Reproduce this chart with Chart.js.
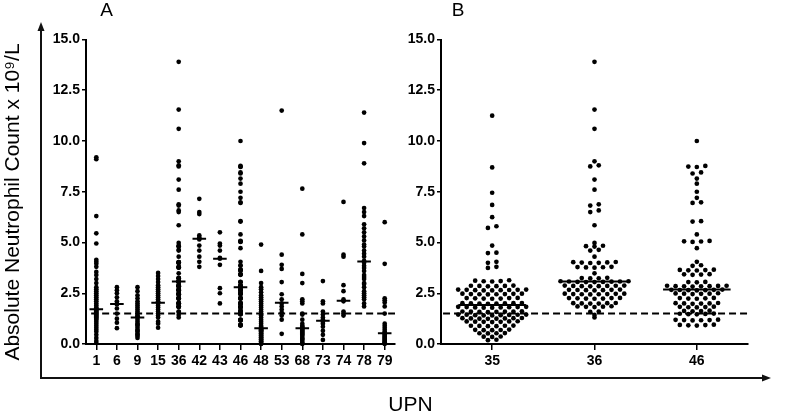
<!DOCTYPE html>
<html>
<head>
<meta charset="utf-8">
<script src="https://cdn.jsdelivr.net/npm/chart.js@4.4.1/dist/chart.umd.min.js"></script>
<style>
    body { margin: 0; background: #fff; }
    #wrap { position: relative; width: 800px; height: 412px; }
    canvas { position: absolute; top: 0; }
</style>
</head>
<body>
<div id="wrap">
    <canvas id="chartA" width="800" height="412" style="left:0;width:800px;height:412px"></canvas>
    <canvas id="chartB" width="400" height="412" style="left:400px;width:400px;height:412px"></canvas>
</div>
<script>
// categories (UPN) and tick labels
const upnA = ['1', '6', '9', '15', '36', '42', '43', '46', '48', '53', '68', '73', '74', '78', '79'];
const upnB = ['35', '36', '46'];
const yTicks = [0, 2.5, 5, 7.5, 10, 12.5, 15];
const threshold = 1.5;

// medians
const medianA = [1.71, 1.97, 1.30, 2.03, 3.08, 5.19, 4.20, 2.79, 0.77, 2.03, 0.77, 1.15, 2.13, 4.07, 0.53];
const medianB = [1.92, 3.08, 2.68];

// absolute neutrophil counts per patient (x 10^9/L)
const anc1 = [9.2, 9.1, 6.3, 5.45, 4.95, 4.15, 4.05, 3.95, 3.8, 3.55, 3.4, 3.2, 3.0, 2.8, 2.7, 2.6, 2.5, 2.4, 2.3, 2.2, 2.1, 2.0, 1.9, 1.8, 1.75, 1.7, 1.65, 1.6, 1.55, 1.5, 1.45, 1.4, 1.35, 1.3, 1.25, 1.2, 1.1, 1.0, 0.9, 0.8, 0.7, 0.6, 0.45, 0.3, 0.15, 0.05];
const anc6 = [2.8, 2.65, 2.5, 2.3, 2.1, 2.0, 1.95, 1.75, 1.5, 1.25, 1.05, 0.78];
const anc9 = [2.8, 2.6, 2.4, 2.25, 2.1, 2.0, 1.9, 1.8, 1.7, 1.6, 1.5, 1.4, 1.35, 1.3, 1.2, 1.1, 1.0, 0.95, 0.9, 0.8, 0.7, 0.65, 0.6, 0.5, 0.45, 0.4, 0.3];
const anc15 = [3.5, 3.35, 3.2, 3.05, 2.9, 2.8, 2.7, 2.6, 2.5, 2.4, 2.3, 2.2, 2.1, 2.05, 2.0, 1.9, 1.8, 1.7, 1.6, 1.5, 1.4, 1.3, 1.1, 1.0, 0.8];
const anc35 = [11.25, 8.7, 7.45, 6.85, 6.25, 5.8, 5.72, 4.85, 4.5, 4.48, 4.05, 4.0, 3.8, 3.75,
    3.14, 3.12, 3.1, 3.09, 3.08,
    2.88, 2.87, 2.86, 2.86, 2.85, 2.84,
    2.68, 2.68, 2.67, 2.67, 2.66, 2.65, 2.65, 2.64, 2.64,
    2.48, 2.48, 2.47, 2.46, 2.46, 2.45, 2.45, 2.44,
    2.27, 2.26, 2.26, 2.25, 2.24, 2.24, 2.23,
    2.02, 2.01, 2.01, 2.0, 2.0, 1.99, 1.99, 1.98,
    1.83, 1.83, 1.82, 1.82, 1.81, 1.8, 1.8, 1.79, 1.79,
    1.61, 1.6, 1.6, 1.59, 1.59, 1.58, 1.58, 1.57,
    1.45, 1.45, 1.44, 1.44, 1.43, 1.42, 1.42, 1.41, 1.41,
    1.28, 1.27, 1.27, 1.26, 1.26, 1.25, 1.25, 1.24,
    1.12, 1.11, 1.11, 1.1, 1.09, 1.09, 1.08,
    0.91, 0.9, 0.9, 0.89, 0.88, 0.88,
    0.71, 0.7, 0.69, 0.68, 0.68,
    0.54, 0.53, 0.53, 0.52,
    0.37, 0.36, 0.35,
    0.21, 0.19];
const anc36 = [13.9, 11.55, 10.6, 9.0, 8.8, 8.75, 8.1, 7.6, 6.88, 6.82, 6.58, 6.5, 5.85,
    4.98, 4.84, 4.82, 4.8, 4.64, 4.6, 4.3,
    4.04, 4.03, 4.02, 4.01, 4.0, 3.99,
    3.8, 3.79, 3.78, 3.77, 3.76,
    3.48,
    3.26, 3.25, 3.24, 3.23,
    3.09, 3.09, 3.08, 3.08, 3.07, 3.06, 3.06, 3.05, 3.05,
    2.88, 2.88, 2.87, 2.86, 2.86, 2.85, 2.85, 2.84,
    2.68, 2.67, 2.67, 2.66, 2.65, 2.65, 2.64,
    2.48, 2.48, 2.47, 2.46, 2.46, 2.45, 2.45, 2.44,
    2.27, 2.26, 2.26, 2.25, 2.24, 2.24, 2.23,
    2.02, 2.01, 2.01, 2.0, 1.99, 1.99,
    1.86, 1.85, 1.84, 1.83, 1.82,
    1.6, 1.58,
    1.43,
    1.31];
const anc42 = [7.15, 6.5, 6.4, 5.35, 5.25, 5.15, 4.85, 4.6, 4.3, 4.05, 3.8];
const anc43 = [5.5, 4.95, 4.85, 4.6, 4.25, 4.2, 3.9, 2.75, 2.5, 2.0];
const anc46 = [10.0,
    8.77, 8.74, 8.72, 8.45, 8.4, 8.15, 7.9, 7.5, 7.2, 6.98, 6.95, 6.05, 6.03,
    5.4, 5.08, 5.06, 5.05, 5.03, 4.72,
    4.05,
    3.88, 3.85,
    3.66, 3.65, 3.64, 3.63, 3.62,
    3.44, 3.43, 3.42, 3.41,
    3.06, 3.05, 3.04,
    2.87, 2.87, 2.86, 2.85, 2.85, 2.84, 2.84, 2.83,
    2.68, 2.67, 2.67, 2.66, 2.65, 2.65, 2.64,
    2.5, 2.49, 2.48, 2.48, 2.47, 2.46,
    2.27, 2.26, 2.25, 2.24, 2.23,
    2.02, 2.01, 2.0, 2.0, 1.99, 1.98,
    1.84, 1.83, 1.82, 1.81, 1.8,
    1.64, 1.63, 1.62, 1.61,
    1.5, 1.49, 1.48, 1.47, 1.46,
    1.2, 1.19, 1.18, 1.18, 1.17, 1.16,
    0.95, 0.94, 0.93, 0.92, 0.91];
const anc48 = [4.9, 3.6, 3.0, 2.8, 2.7, 2.55, 2.4, 2.3, 2.2, 2.1, 2.0, 1.9, 1.8, 1.7, 1.6, 1.5, 1.45, 1.4, 1.3, 1.2, 1.1, 1.0, 0.9, 0.85, 0.8, 0.75, 0.72, 0.7, 0.68, 0.65, 0.62, 0.6, 0.55, 0.52, 0.5, 0.45, 0.42, 0.4, 0.35, 0.32, 0.3, 0.25, 0.22, 0.2, 0.15, 0.12, 0.1, 0.05, 0.02, 0.0];
const anc53 = [11.5, 4.4, 3.9, 3.7, 3.05, 2.45, 2.2, 2.0, 1.85, 1.7, 1.55, 1.4, 1.2, 0.5];
const anc68 = [7.65, 5.4, 3.45, 3.0, 2.2, 2.1, 2.0, 1.5, 1.45, 1.2, 1.0, 0.9, 0.85, 0.8, 0.75, 0.7, 0.65, 0.6, 0.55, 0.5, 0.45, 0.4, 0.3, 0.25, 0.2, 0.1, 0.05, 0.0];
const anc73 = [3.1, 2.1, 2.0, 1.6, 1.45, 1.3, 1.2, 1.1, 1.0, 0.85, 0.65, 0.45, 0.2];
const anc74 = [7.0, 4.4, 4.3, 2.9, 2.6, 2.2, 2.1, 1.6, 1.5, 1.4];
const anc78 = [11.4, 9.9, 8.9, 6.7, 6.5, 6.3, 5.9, 5.7, 5.5, 5.3, 5.1, 4.9, 4.8, 4.6, 4.45, 4.3, 4.1, 4.0, 3.85, 3.75, 3.6, 3.4, 3.3, 3.2, 3.0, 2.95, 2.8, 2.6, 2.5, 2.4, 2.3, 2.2, 2.0, 1.85];
const anc79 = [6.0, 3.95, 2.25, 2.15, 2.05, 1.85, 1.5, 1.0, 0.9, 0.8, 0.7, 0.6, 0.55, 0.5, 0.45, 0.4, 0.35, 0.3, 0.25, 0.2, 0.15, 0.1, 0.08, 0.05, 0.0];

const columnsA = [anc1, anc6, anc9, anc15, anc36, anc42, anc43, anc46, anc48, anc53, anc68, anc73, anc74, anc78, anc79];
const columnsB = [anc35, anc36, anc46];

const black = '#000';
const tickFont = { family: "'Liberation Sans', Arial, sans-serif", size: 14, weight: 'bold' };
const pxPerCatB = 307 / 3;   // x pixels per column in panel B
const dotGap = 8.5;          // centre distance between neighbours in a row
const rowSpan = 0.1;         // values closer than this share a row

// GraphPad-like scatter: near-equal values form a centred horizontal row
function rowOffsets(values) {
    const order = values.map((v, i) => ({ v, i })).sort((a, b) => a.v - b.v);
    const offsets = new Array(values.length).fill(0);
    let row = [];
    const flush = () => {
        const n = row.length;
        const slots = row.map((_, k) => (k - (n - 1) / 2) * dotGap)
            .sort((a, b) => Math.abs(a) - Math.abs(b) || a - b);
        row.forEach((p, k) => { offsets[p.i] = slots[k]; });
        row = [];
    };
    order.forEach(p => {
        if (row.length && p.v - row[0].v > rowSpan) flush();
        row.push(p);
    });
    flush();
    return offsets;
}

function dotPoints(columns, pxPerCat) {
    const pts = [];
    columns.forEach((vals, i) => {
        const offs = pxPerCat ? rowOffsets(vals) : vals.map(() => 0);
        vals.forEach((v, k) => pts.push({ x: i + (pxPerCat ? offs[k] / pxPerCat : 0), y: v }));
    });
    return pts;
}

function medianPoints(medians) {
    const pts = [];
    medians.forEach((m, i) => {
        pts.push({ x: i - 0.33, y: m }, { x: i + 0.33, y: m }, { x: i, y: null });
    });
    return pts;
}

function makeChart(canvasId, labels, columns, medians, opts) {
    const ctx = document.getElementById(canvasId).getContext('2d');
    return new Chart(ctx, {
        type: 'scatter',
        data: {
            datasets: [{
                data: medianPoints(medians),
                showLine: true,
                spanGaps: false,
                borderColor: black,
                borderWidth: 2,
                pointRadius: 0
            }, {
                data: [{ x: opts.dashStart, y: threshold }, { x: labels.length - 0.5, y: threshold }],
                showLine: true,
                borderColor: black,
                borderWidth: 2,
                borderDash: [7, 4],
                pointRadius: 0
            }, {
                data: dotPoints(columns, opts.pxPerCat),
                pointRadius: 2.35,
                pointBackgroundColor: black,
                pointBorderWidth: 0,
                clip: false
            }]
        },
        options: {
            responsive: false,
            animation: false,
            layout: { padding: { left: 0, top: 39.5, right: opts.rightPad, bottom: 0 } },
            plugins: {
                legend: { display: false },
                tooltip: { enabled: false }
            },
            scales: {
                x: {
                    type: 'linear',
                    min: -0.5,
                    max: labels.length - 0.5,
                    afterBuildTicks: s => { s.ticks = labels.map((_, i) => ({ value: i })); },
                    afterFit: s => { s.height = 68; },
                    ticks: {
                        callback: v => labels[v],
                        autoSkip: false,
                        maxRotation: 0,
                        minRotation: 0,
                        padding: 3,
                        color: black,
                        font: tickFont
                    },
                    grid: { display: true, drawOnChartArea: false, drawTicks: true, tickLength: 6, color: black, lineWidth: 1.5 },
                    border: { display: true, color: black, width: 2 }
                },
                y: {
                    min: 0,
                    max: 15,
                    afterBuildTicks: s => { s.ticks = yTicks.map(v => ({ value: v })); },
                    afterFit: s => { s.width = opts.yWidth; },
                    ticks: {
                        callback: v => v.toFixed(1),
                        padding: 2,
                        color: black,
                        font: tickFont
                    },
                    grid: { display: true, drawOnChartArea: false, drawTicks: true, tickLength: 4, color: black, lineWidth: 1.5 },
                    border: { display: true, color: black, width: 2 }
                }
            }
        },
        plugins: opts.plugins || []
    });
}

// outer arrowed axes, shared titles and panel letters
const decorations = {
    id: 'decorations',
    afterDraw(chart) {
        const ctx = chart.ctx;
        ctx.save();
        ctx.strokeStyle = '#111';
        ctx.fillStyle = '#111';
        ctx.lineWidth = 2;
        ctx.beginPath();
        ctx.moveTo(41, 30);
        ctx.lineTo(41, 378);
        ctx.lineTo(763, 378);
        ctx.stroke();
        ctx.beginPath();
        ctx.moveTo(41, 22);
        ctx.lineTo(37.5, 31);
        ctx.lineTo(44.5, 31);
        ctx.closePath();
        ctx.fill();
        ctx.beginPath();
        ctx.moveTo(771, 378);
        ctx.lineTo(762, 374.5);
        ctx.lineTo(762, 381.5);
        ctx.closePath();
        ctx.fill();

        ctx.fillStyle = black;
        ctx.font = "21px 'Liberation Sans', Arial, sans-serif";
        ctx.textAlign = 'center';
        ctx.textBaseline = 'alphabetic';
        ctx.fillText('UPN', 410.5, 411);

        ctx.font = "19px 'Liberation Sans', Arial, sans-serif";
        ctx.fillText('A', 106.5, 16);
        ctx.fillText('B', 458, 16);

        ctx.translate(13, 202);
        ctx.rotate(-Math.PI / 2);
        ctx.font = "21px 'Liberation Sans', Arial, sans-serif";
        ctx.textBaseline = 'middle';
        ctx.fillText('Absolute Neutrophil Count x 10\u2079/L', 0, 0);
        ctx.restore();
    }
};

document.addEventListener('DOMContentLoaded', () => {
    makeChart('chartA', upnA, columnsA, medianA, {
        yWidth: 86, rightPad: 405, dashStart: -0.25, pxPerCat: 0, plugins: [decorations]
    });
    makeChart('chartB', upnB, columnsB, medianB, {
        yWidth: 41, rightPad: 52, dashStart: -0.48, pxPerCat: pxPerCatB
    });
});
</script>
</body>
</html>
